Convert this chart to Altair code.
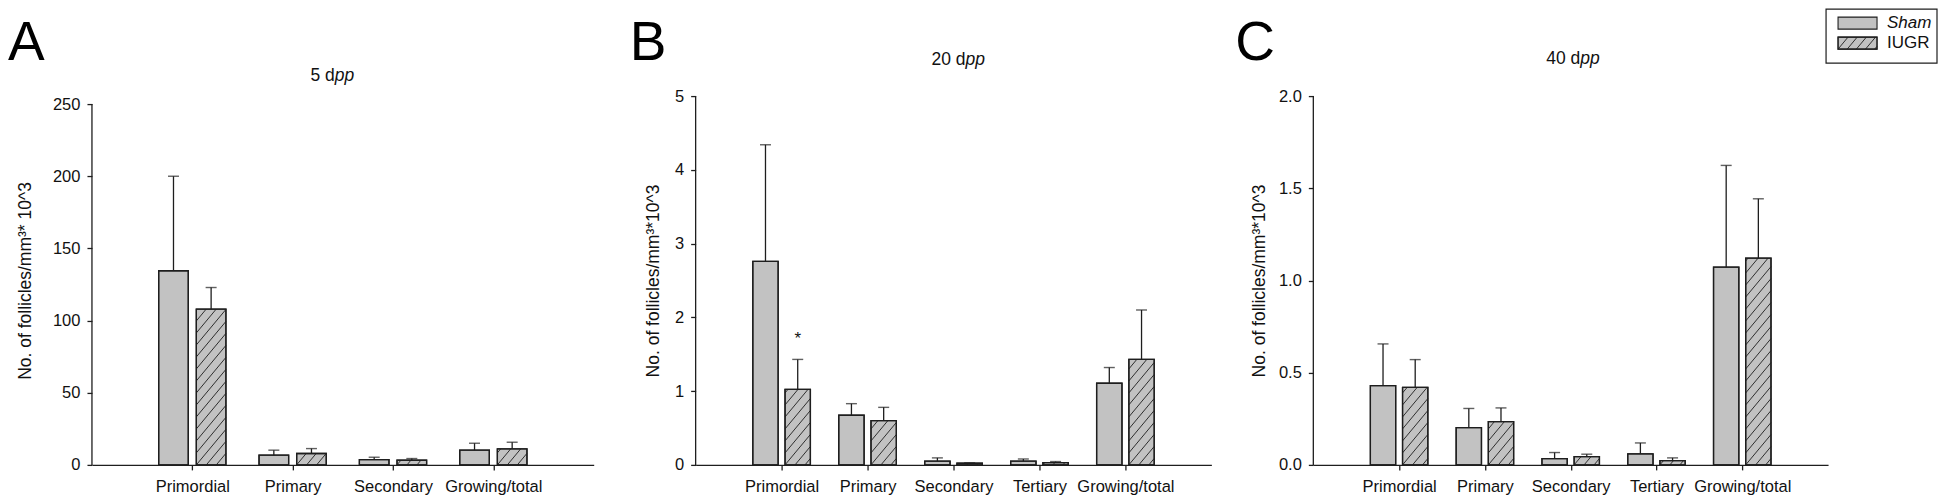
import math
import altair as alt
import pandas as pd

# ---------------- data ----------------
groups = ["Sham", "IUGR"]

cats_a = ["Primordial", "Primary", "Secondary", "Growing/total"]
sham_a = [134.5, 6.7, 3.7, 10.2]
sham_a_se = [65.5, 3.5, 1.6, 4.8]
iugr_a = [107.9, 7.9, 3.2, 11.1]
iugr_a_se = [15.0, 3.4, 1.2, 4.6]

cats_b = ["Primordial", "Primary", "Secondary", "Tertiary", "Growing/total"]
sham_b = [2.76, 0.673, 0.052, 0.05, 1.107]
sham_b_se = [1.58, 0.157, 0.043, 0.03, 0.213]
iugr_b = [1.025, 0.60, 0.022, 0.03, 1.43]
iugr_b_se = [0.405, 0.18, 0.005, 0.015, 0.67]

cats_c = ["Primordial", "Primary", "Secondary", "Tertiary", "Growing/total"]
sham_c = [0.430, 0.2025, 0.034, 0.06, 1.072]
sham_c_se = [0.226, 0.1035, 0.033, 0.059, 0.552]
iugr_c = [0.42, 0.235, 0.045, 0.0235, 1.121]
iugr_c_se = [0.151, 0.074, 0.013, 0.0145, 0.322]

yticks_a = [0, 50, 100, 150, 200, 250]
yticks_b = [0, 1, 2, 3, 4, 5]
yticks_c = [0, 0.5, 1.0, 1.5, 2.0]

star_b_category = "Primordial"
star_b_group = "IUGR"
star_b_y = 1.70

# ---------------- style ----------------
FONT = "Liberation Sans"
INK = "#1e1e1e"
GRAY = "#c2c2c2"
PLOT_H = 369
BAR_OFF = 0.04
BAR_W = 0.295
HATCH_STEP = 12.0
HATCH_SLOPE = 1.2


def hatch_segments(w, h, step=HATCH_STEP, slope=HATCH_SLOPE):
    """Diagonal hatch lines (pixel units, origin bottom-left, up positive)."""
    segs = []
    if w <= 0 or h <= 0:
        return segs
    k = math.floor(-slope * w / step)
    while k * step < h:
        c = k * step
        ua = max(0.0, -c / slope)
        ub = min(w, (h - c) / slope)
        if ub > ua + 1e-6:
            segs.append((ua, slope * ua + c, ub, slope * ub + c))
        k += 1
    return segs


def panel(cats, sham, sham_se, iugr, iugr_se, ydom, yticks, yfmt, width,
          ytitle, title_pad, letter, letter_x, tnum, t_split, t_y,
          star=None, legend=False):
    n = len(cats)
    rows = []
    for i, c in enumerate(cats):
        rows.append(dict(category=c, idx=i + 1, group=groups[0], value=sham[i], se=sham_se[i]))
        rows.append(dict(category=c, idx=i + 1, group=groups[1], value=iugr[i], se=iugr_se[i]))
    df = pd.DataFrame(rows)

    px_x = width / (n + 1)
    px_y = PLOT_H / ydom

    # hatch lines for IUGR bars (converted back to data units)
    hrows = []
    for i in range(n):
        x0 = (i + 1) + BAR_OFF
        for (u0, v0, u1, v1) in hatch_segments(BAR_W * px_x, iugr[i] * px_y):
            hrows.append(dict(hx0=x0 + u0 / px_x, hy0=v0 / px_y,
                              hx1=x0 + u1 / px_x, hy1=v1 / px_y))
    hdf = pd.DataFrame(hrows)

    xscale = alt.Scale(domain=[0, n + 1], nice=False, zero=False)
    yscale = alt.Scale(domain=[0, ydom], nice=False, zero=False)
    label_expr = "[" + ",".join("'%s'" % c for c in cats) + "][datum.value - 1]"
    xaxis = alt.Axis(values=list(range(1, n + 1)), labelExpr=label_expr,
                     title=None, labelOverlap=False, labelFlush=False)
    yaxis = alt.Axis(values=yticks, format=yfmt, title=ytitle,
                     titlePadding=title_pad, domain=False,
                     labelOverlap=False, labelFlush=False)

    def X(f):
        return alt.X(f, scale=xscale, axis=xaxis)

    def Y(f):
        return alt.Y(f, scale=yscale, axis=yaxis)

    def with_pos(ch):
        return ch.transform_calculate(
            x0="datum.idx + (datum.group == 'Sham' ? %f : %f)" % (-BAR_OFF - BAR_W, BAR_OFF)
        ).transform_calculate(
            x1="datum.x0 + %f" % BAR_W,
            xc="datum.x0 + %f" % (BAR_W / 2),
            top="datum.value + datum.se",
        )

    base = with_pos(alt.Chart(df))

    bars = base.mark_rect(fill=GRAY, stroke=INK, strokeWidth=1.3).encode(
        x=X("x0:Q"), x2="x1:Q", y=Y("value:Q"), y2=alt.datum(0),
    )
    hatch = alt.Chart(hdf).mark_rule(color=INK, strokeWidth=0.9).encode(
        x=X("hx0:Q"), x2="hx1:Q", y=Y("hy0:Q"), y2="hy1:Q",
    )
    outline = base.mark_rect(fillOpacity=0, stroke=INK, strokeWidth=1.3).encode(
        x=X("x0:Q"), x2="x1:Q", y=Y("value:Q"), y2=alt.datum(0),
    )
    err = base.mark_rule(color=INK, strokeWidth=1.3).encode(
        x=X("xc:Q"), y=Y("value:Q"), y2="top:Q",
    )
    cap = base.mark_tick(color=INK, orient="horizontal", size=11, thickness=1.4).encode(
        x=X("xc:Q"), y=Y("top:Q"),
    )
    yline = alt.Chart(pd.DataFrame({"y0": [0], "y1": [yticks[-1]]})).mark_rule(
        color=INK, strokeWidth=1.3).encode(
        x=alt.value(0), y=Y("y0:Q"), y2="y1:Q",
    )
    letter_t = alt.Chart(pd.DataFrame({"t": [letter]})).mark_text(
        font=FONT, fontSize=55, align="left", baseline="alphabetic", color="black"
    ).encode(text="t:N", x=alt.value(letter_x), y=alt.value(-36))
    t1 = alt.Chart(pd.DataFrame({"t": [tnum + " d"]})).mark_text(
        font=FONT, fontSize=17.5, align="right", baseline="middle", color="#111"
    ).encode(text="t:N", x=alt.value(t_split), y=alt.value(t_y))
    t2 = alt.Chart(pd.DataFrame({"t": ["pp"]})).mark_text(
        font=FONT, fontSize=17.5, align="left", baseline="middle", fontStyle="italic", color="#111"
    ).encode(text="t:N", x=alt.value(t_split), y=alt.value(t_y))

    layers = [bars, hatch, outline, err, cap, yline, letter_t, t1, t2]

    if star is not None:
        sdf = pd.DataFrame([dict(idx=cats.index(star[0]) + 1, group=star[1],
                                 value=star[2], se=0.0, t="*")])
        st = with_pos(alt.Chart(sdf)).mark_text(
            font=FONT, fontSize=17, baseline="middle", color="#111"
        ).encode(text="t:N", x=X("xc:Q"), y=Y("value:Q"))
        layers.append(st)

    if legend:
        one = pd.DataFrame({"t": ["Sham"]})
        box = alt.Chart(one).mark_rect(fill="white", stroke=INK, strokeWidth=1.2).encode(
            x=alt.value(513), x2=alt.value(624), y=alt.value(-87), y2=alt.value(-33))
        sw1 = alt.Chart(one).mark_rect(fill=GRAY, stroke=INK, strokeWidth=1.1).encode(
            x=alt.value(525), x2=alt.value(564), y=alt.value(-79), y2=alt.value(-67))
        sw2 = alt.Chart(one).mark_rect(fill=GRAY, stroke=INK, strokeWidth=1.1).encode(
            x=alt.value(525), x2=alt.value(564), y=alt.value(-59), y2=alt.value(-47))
        lrows = []
        sw_left, sw_bottom = 525.0, -47.0
        for (u0, v0, u1, v1) in hatch_segments(39.0, 12.0, step=11.0):
            lrows.append(dict(
                hx0=(sw_left + u0) / px_x, hx1=(sw_left + u1) / px_x,
                hy0=ydom + (-(sw_bottom - v0)) / px_y, hy1=ydom + (-(sw_bottom - v1)) / px_y))
        lh = alt.Chart(pd.DataFrame(lrows)).mark_rule(color=INK, strokeWidth=0.9).encode(
            x=X("hx0:Q"), x2="hx1:Q", y=Y("hy0:Q"), y2="hy1:Q",
        )
        sw2o = alt.Chart(one).mark_rect(fillOpacity=0, stroke=INK, strokeWidth=1.1).encode(
            x=alt.value(525), x2=alt.value(564), y=alt.value(-59), y2=alt.value(-47))
        lt1 = alt.Chart(pd.DataFrame({"t": [groups[0]]})).mark_text(
            font=FONT, fontSize=17, align="left", baseline="middle", fontStyle="italic", color="#111"
        ).encode(text="t:N", x=alt.value(574), y=alt.value(-73))
        lt2 = alt.Chart(pd.DataFrame({"t": [groups[1]]})).mark_text(
            font=FONT, fontSize=17, align="left", baseline="middle", color="#111"
        ).encode(text="t:N", x=alt.value(574), y=alt.value(-53))
        layers += [box, sw1, sw2, lh, sw2o, lt1, lt2]

    return alt.layer(*layers).properties(width=width, height=PLOT_H)


pa = panel(cats_a, sham_a, sham_a_se, iugr_a, iugr_a_se,
           ydom=250 * 369 / 361, yticks=yticks_a, yfmt="d", width=502,
           ytitle="No. of follicles/mm³* 10^3", title_pad=18,
           letter="A", letter_x=-84, tnum="5", t_split=243, t_y=-20)
pb = panel(cats_b, sham_b, sham_b_se, iugr_b, iugr_b_se,
           ydom=5, yticks=yticks_b, yfmt="d", width=516,
           ytitle="No. of follicles/mm³*10^3", title_pad=12,
           letter="B", letter_x=-66, tnum="20", t_split=270, t_y=-36,
           star=(star_b_category, star_b_group, star_b_y))
pc = panel(cats_c, sham_c, sham_c_se, iugr_c, iugr_c_se,
           ydom=2, yticks=yticks_c, yfmt=".1f", width=515,
           ytitle="No. of follicles/mm³*10^3", title_pad=10,
           letter="C", letter_x=-78, tnum="40", t_split=267, t_y=-37,
           legend=True)

chart = alt.hconcat(pa, pb, pc, spacing=102, bounds="flush").properties(
    padding={"left": 0, "top": 0, "right": 0, "bottom": 0}
).configure(font=FONT).configure_view(stroke=None).configure_axis(
    domainColor=INK, domainWidth=1.3, tickColor=INK, tickWidth=1.3, tickSize=5,
    labelFont=FONT, labelFontSize=16.5, labelColor="#111", labelPadding=7,
    titleFont=FONT, titleFontSize=17.5, titleFontWeight="normal", titleColor="#111",
    grid=False,
).configure_axisX(labelFontSize=16.5, labelPadding=9)

chart.save("out.html", embed_options={"renderer": "svg", "actions": False})
